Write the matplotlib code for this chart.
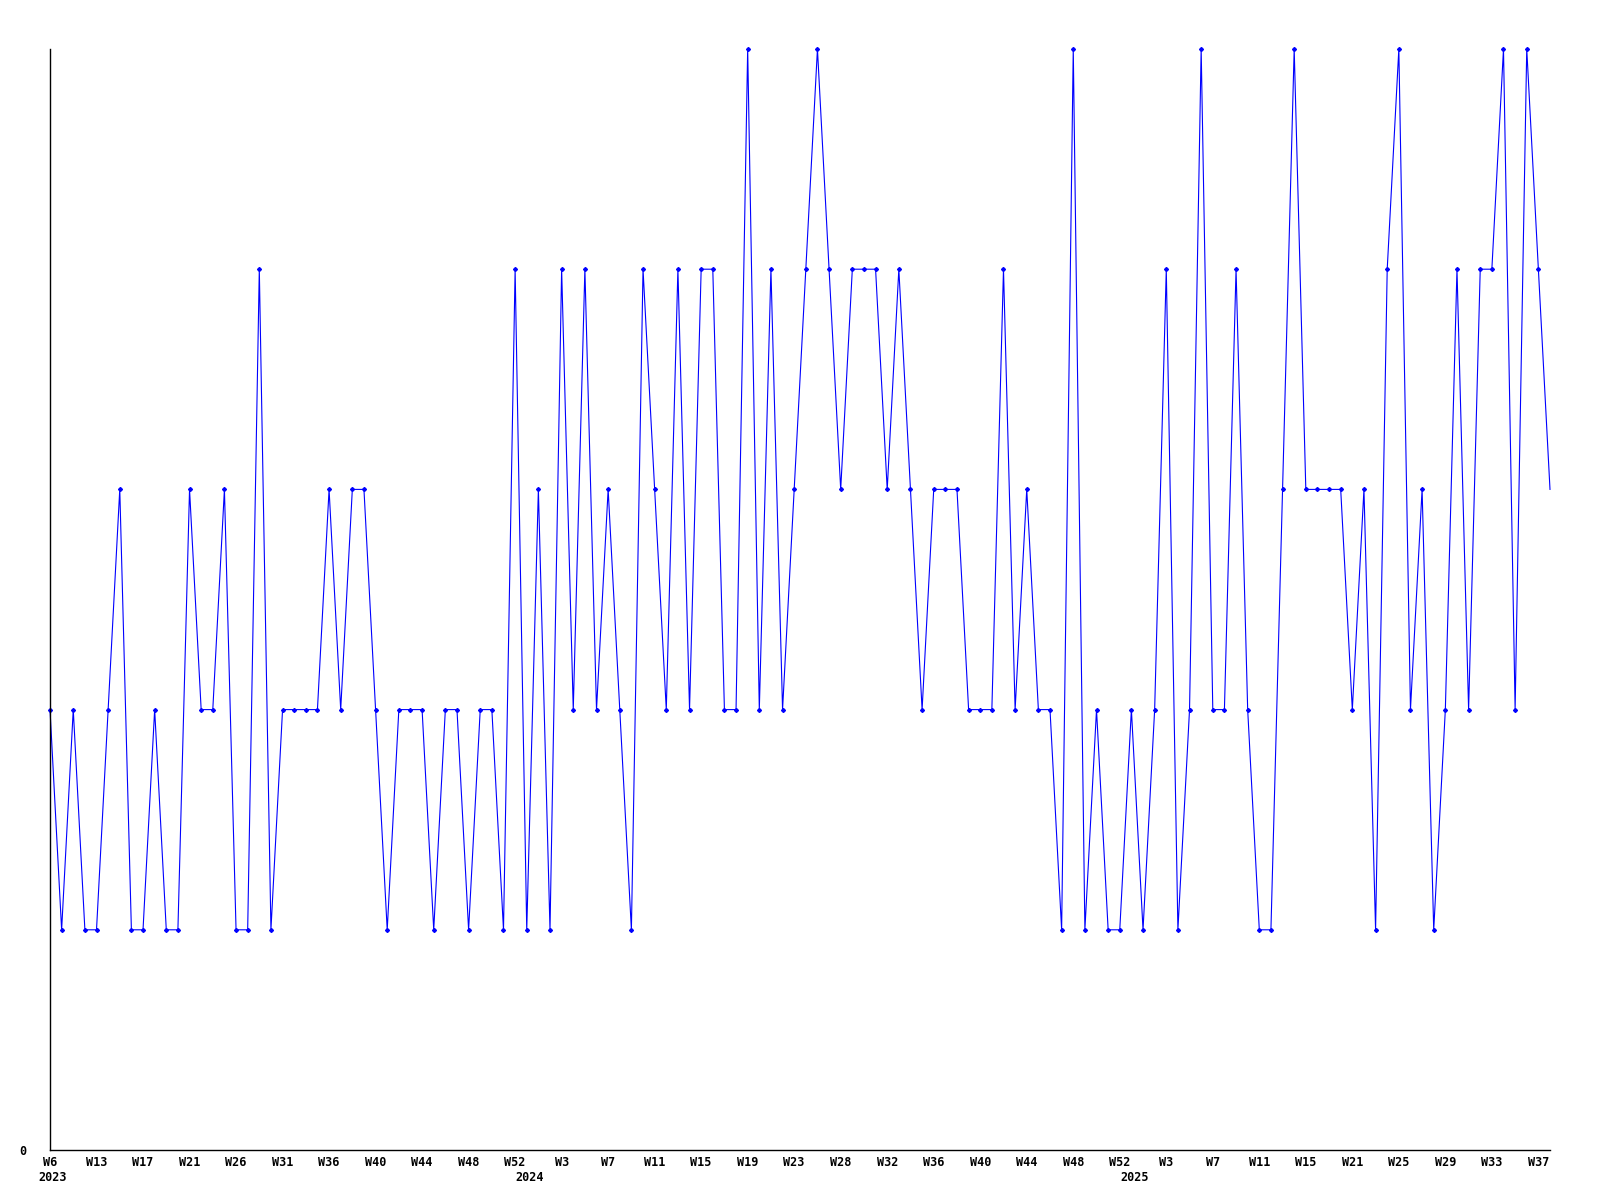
import matplotlib
matplotlib.use("Agg")
import matplotlib.pyplot as plt

values = [2, 1, 2, 1, 1, 2, 3, 1, 1, 2,
          1, 1, 3, 2, 2, 3, 1, 1, 4, 1,
          2, 2, 2, 2, 3, 2, 3, 3, 2, 1,
          2, 2, 2, 1, 2, 2, 1, 2, 2, 1,
          4, 1, 3, 1, 4, 2, 4, 2, 3, 2,
          1, 4, 3, 2, 4, 2, 4, 4, 2, 2,
          5, 2, 4, 2, 3, 4, 5, 4, 3, 4,
          4, 4, 3, 4, 3, 2, 3, 3, 3, 2,
          2, 2, 4, 2, 3, 2, 2, 1, 5, 1,
          2, 1, 1, 2, 1, 2, 4, 1, 2, 5,
          2, 2, 4, 2, 1, 1, 3, 5, 3, 3,
          3, 3, 2, 3, 1, 4, 5, 2, 3, 1,
          2, 4, 2, 4, 4, 5, 2, 5, 4, 3]

week_labels = ["W6", "W13", "W17", "W21", "W26", "W31", "W36", "W40", "W44", "W48", "W52",
               "W3", "W7", "W11", "W15", "W19", "W23", "W28", "W32", "W36", "W40", "W44", "W48", "W52",
               "W3", "W7", "W11", "W15", "W21", "W25", "W29", "W33", "W37"]
year_labels = ["2023", "2024", "2025"]
year_start_index = [0, 41, 93]

fig = plt.figure(figsize=(16, 12), dpi=100)
ax = fig.add_axes([50 / 1600, 1 - 1150 / 1200, 1500 / 1600, 1101 / 1200])

x = list(range(len(values)))
ax.plot(x, values, color="#0000ff", lw=0.8, marker="D", markersize=2.0,
        markerfacecolor="#0000ff", markeredgecolor="#0000ff",
        markevery=list(range(len(values) - 1)), clip_on=False)

ax.set_xlim(0, len(values) - 1)
ax.set_ylim(0, 5)

for s in ["top", "right"]:
    ax.spines[s].set_visible(False)
for s in ["left", "bottom"]:
    ax.spines[s].set_color("black")
    ax.spines[s].set_linewidth(1.0)

font = dict(family="DejaVu Sans Mono", weight="bold", size=8.5)

ax.set_xticks(list(range(0, 4 * len(week_labels), 4)))
ax.set_xticklabels(week_labels, fontdict=font)
ax.set_yticks([0])
ax.set_yticklabels(["0"], fontdict=font)
ax.tick_params(axis="x", length=0, pad=4)
ax.tick_params(axis="y", length=0, pad=17)

for lab, idx in zip(year_labels, year_start_index):
    ax.annotate(lab, xy=(idx, 0), xycoords=("data", "axes fraction"),
                xytext=(2, -19.5), textcoords="offset points",
                ha="center", va="center", **font)

fig.savefig("out.png", dpi=100)
